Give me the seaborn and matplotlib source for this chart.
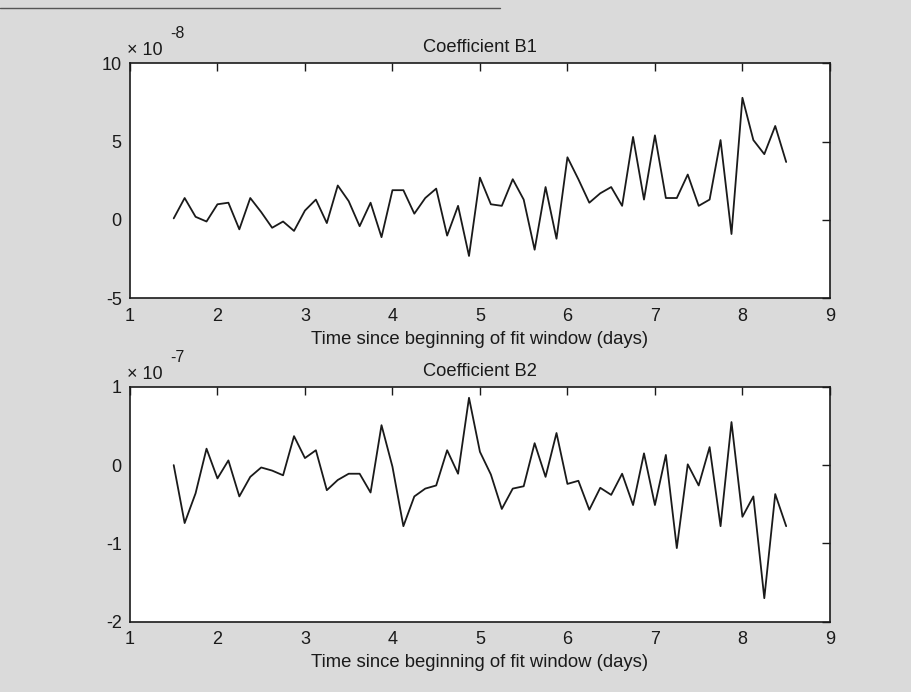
import numpy as np
import pandas as pd
import matplotlib
matplotlib.use('Agg')
import matplotlib.pyplot as plt
import seaborn as sns
from matplotlib.ticker import FuncFormatter

# time axis: 3-hour steps from 1.5 to 8.5 days
days = np.arange(1.5, 8.5 + 0.0625, 0.125)

# coefficient B1 in units of 1e-8
b1 = [0.1, 1.4, 0.2, -0.1, 1.0, 1.1, -0.6, 1.4, 0.5, -0.5,
      -0.1, -0.7, 0.6, 1.3, -0.2, 2.2, 1.2, -0.4, 1.1, -1.1,
      1.9, 1.9, 0.4, 1.4, 2.0, -1.0, 0.9, -2.3, 2.7, 1.0,
      0.9, 2.6, 1.3, -1.9, 2.1, -1.2, 4.0, 2.6, 1.1, 1.7,
      2.1, 0.9, 5.3, 1.3, 5.4, 1.4, 1.4, 2.9, 0.9, 1.3,
      5.1, -0.9, 7.8, 5.1, 4.2, 6.0, 3.7]

# coefficient B2 in units of 1e-7
b2 = [0.0, -0.74, -0.36, 0.21, -0.17, 0.06, -0.40, -0.15, -0.03, -0.07,
      -0.13, 0.37, 0.09, 0.19, -0.32, -0.19, -0.11, -0.11, -0.35, 0.51,
      -0.02, -0.78, -0.40, -0.30, -0.26, 0.19, -0.11, 0.86, 0.17, -0.12,
      -0.56, -0.30, -0.27, 0.28, -0.15, 0.41, -0.24, -0.20, -0.57, -0.29,
      -0.38, -0.11, -0.51, 0.15, -0.51, 0.13, -1.06, 0.01, -0.26, 0.23,
      -0.78, 0.55, -0.66, -0.40, -1.70, -0.37, -0.78]

df = pd.DataFrame({'days': days,
                   'B1': np.array(b1) * 1e-8,
                   'B2': np.array(b2) * 1e-7})

sns.set_style('white')
plt.rcParams['font.family'] = ['Liberation Sans', 'DejaVu Sans']
plt.rcParams['axes.unicode_minus'] = False

bg = '#dadada'
ink = '#1a1a1a'
fig = plt.figure(figsize=(9.12, 6.92), dpi=100, facecolor=bg)
ax1 = fig.add_axes([0.1425, 0.569, 0.7675, 0.3395])
ax2 = fig.add_axes([0.1425, 0.1016, 0.7675, 0.3394])

# scan edge line at the top
fig.add_artist(plt.Line2D([0.0, 0.548], [0.988, 0.988], color='#555555', lw=1.0))

panels = [(ax1, 'B1', 'Coefficient B1', (-5e-8, 10e-8), [-5e-8, 0, 5e-8, 10e-8], -8),
          (ax2, 'B2', 'Coefficient B2', (-2e-7, 1e-7), [-2e-7, -1e-7, 0, 1e-7], -7)]

for ax, col, title, ylim, yticks, power in panels:
    sns.lineplot(data=df, x='days', y=col, ax=ax, color=ink, linewidth=1.3)
    ax.set_xlim(1, 9)
    ax.set_ylim(*ylim)
    ax.set_xticks(range(1, 10))
    ax.set_yticks(yticks)
    scale = 10.0 ** power
    ax.yaxis.set_major_formatter(FuncFormatter(lambda v, p, s=scale: '%g' % round(v / s, 6)))
    # MATLAB style exponent label above the y axis
    ax.text(-0.004, 1.034, '\u00d7 10', transform=ax.transAxes, fontsize=13,
            ha='left', va='baseline', color=ink)
    ax.text(0.057, 1.106, '%d' % power, transform=ax.transAxes, fontsize=11.5,
            ha='left', va='baseline', color=ink)
    ax.set_title(title, fontsize=13.2, pad=8, color=ink)
    ax.set_xlabel('Time since beginning of fit window (days)', fontsize=13.3,
                  labelpad=4, color=ink)
    ax.set_ylabel('')
    ax.set_facecolor('white')
    ax.tick_params(direction='in', length=6, width=1, labelsize=13,
                   top=True, right=True, colors=ink)
    ax.tick_params(axis='x', pad=7)
    ax.tick_params(axis='y', pad=6)
    for s in ax.spines.values():
        s.set_color(ink)
        s.set_linewidth(1.2)

fig.savefig('out.png', dpi=100, facecolor=bg)
